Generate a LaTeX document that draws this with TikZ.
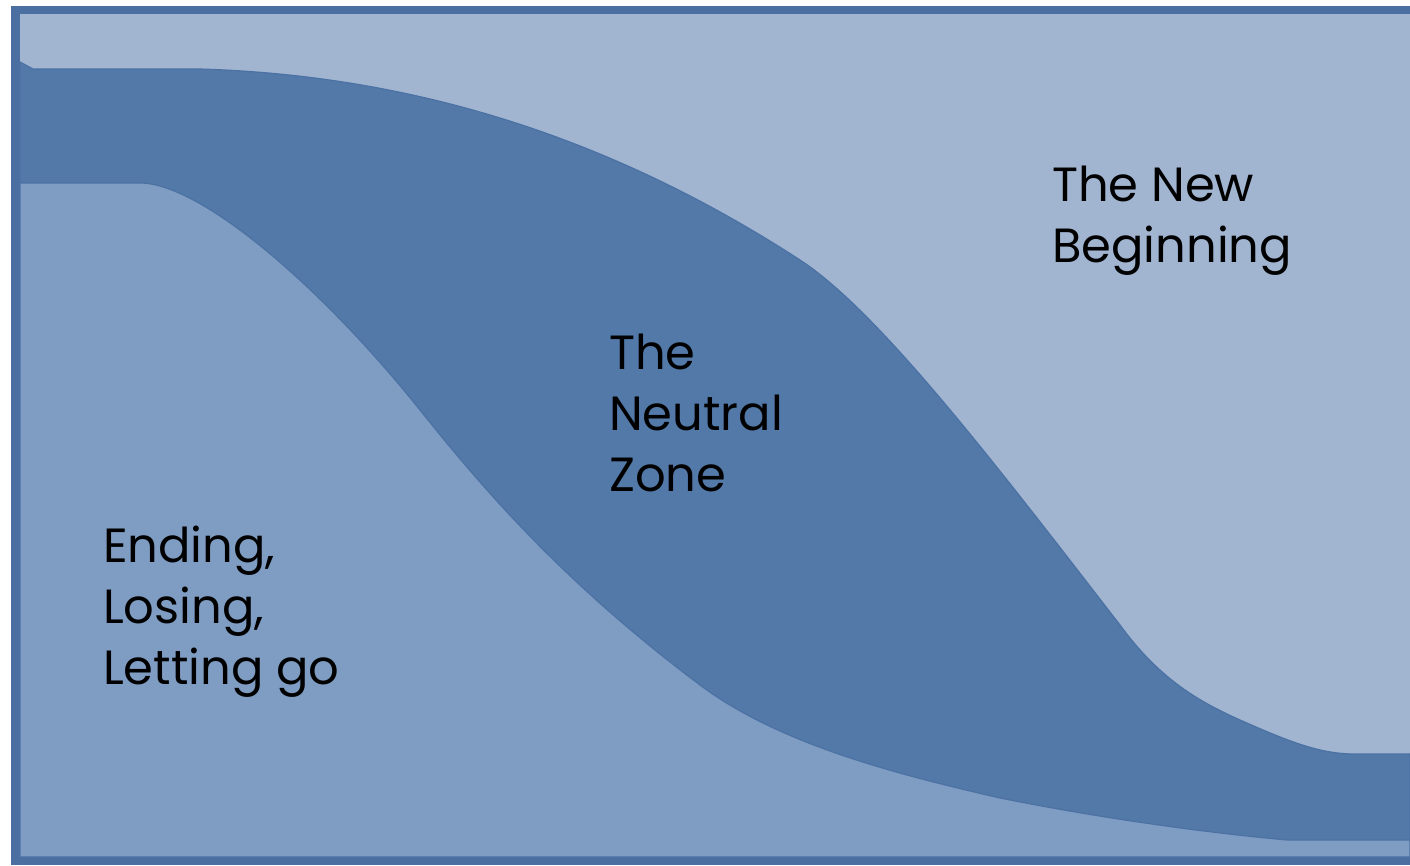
\documentclass[tikz,border=0pt]{standalone}
\usepackage{fontspec}
\setmainfont{Poppins}
\definecolor{topc}{HTML}{A1B5D1}
\definecolor{bandc}{HTML}{5279A8}
\definecolor{lowc}{HTML}{7F9CC2}
\definecolor{framec}{HTML}{4A6FA0}
\definecolor{edgec}{HTML}{4C72A4}
\begin{document}
\begin{tikzpicture}[x=1pt,y=-1pt,
  lbl/.style={anchor=north west, inner sep=0pt, align=left,
    font=\fontsize{48}{61}\selectfont, text=black},
  region/.style={draw=edgec, line width=1.2pt, line join=round}]
\useasboundingbox (0,0) rectangle (1410,865);
\fill[white] (0,0) rectangle (1410,865);
\fill[framec] (11,6) rectangle (1410,865);
\fill[topc] (20,14) rectangle (1410,857);
% neutral-zone band (everything below its upper edge)
\filldraw[region, fill=bandc] (20,62) -- (33,69) -- (200,69)
  .. controls (400,75) and (600,130) .. (800,260)
  .. controls (880,312) and (1000,470) .. (1120,625)
  .. controls (1160,680) and (1200,702) .. (1240,720)
  .. controls (1290,742) and (1320,754) .. (1355,754)
  -- (1410,754) -- (1410,857) -- (20,857) -- cycle;
% ending region (below the lower edge of the band)
\filldraw[region, fill=lowc] (20,183) -- (140,183)
  .. controls (200,183) and (320,285) .. (420,410)
  .. controls (480,485) and (560,580) .. (700,685)
  .. controls (780,745) and (900,775) .. (1000,798)
  .. controls (1100,818) and (1200,832) .. (1287,840)
  -- (1410,840) -- (1410,857) -- (20,857) -- cycle;
\fill[framec] (20,857) rectangle (1410,865);
\node[lbl] (newb) at (1052,166) {The New\\Beginning};
\node[lbl] (neut) at (609,334) {The\\Neutral\\Zone};
\node[lbl] (endg) at (103,526) {Ending,\\Losing,\\Letting go};
\end{tikzpicture}
\end{document}
